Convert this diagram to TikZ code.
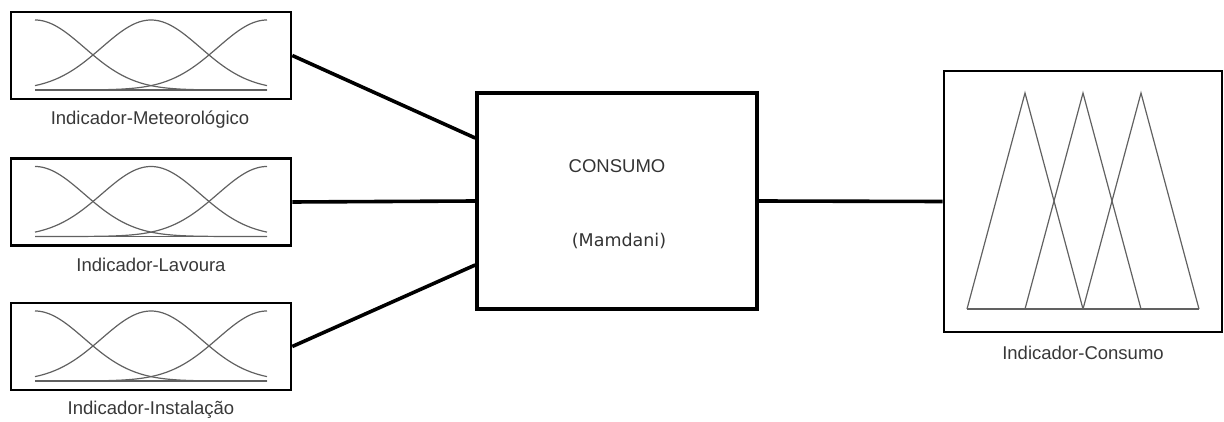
\documentclass[tikz,border=0pt]{standalone}
\usepackage{fontspec}
\setmainfont{Liberation Sans}
\newfontfamily\mamdanifont{DejaVu Sans}
\usetikzlibrary{calc}

% three Gaussian membership functions inside an input block
\newcommand\bellset[1]{%
  \begin{scope}[shift={(#1.center)}]
    \draw[mf] (-116,34.5) -- (116,34.5);
    \foreach \m in {-116,0,116}
      \draw[mf] plot[domain=-116:116, samples=90, smooth]
        ({\x}, {34.5 - 70*exp(-0.5*((\x-\m)/49.3)*((\x-\m)/49.3))});
  \end{scope}}

\begin{document}
\begin{tikzpicture}[x=1pt, y=-1pt,
  inbox/.style={draw=black, line width=2.6pt, minimum width=280pt, minimum height=87pt, inner sep=0pt},
  corebox/.style={draw=black, line width=3.6pt, minimum width=280pt, minimum height=216pt, inner sep=0pt},
  outbox/.style={draw=black, line width=2.6pt, minimum width=278pt, minimum height=261pt, inner sep=0pt},
  mf/.style={draw=black!62, line width=1.2pt},
  lbl/.style={text=black!78, font=\fontsize{18.5}{22}\selectfont, inner sep=0pt},
  wire/.style={draw=black, line width=3.6pt}
]
\useasboundingbox (0,0) rectangle (1224,422);

% input blocks
\node[inbox] (met) at (151,55.5) {};
\node[inbox] (lav) at (151,202) {};
\node[inbox] (ins) at (151,346.5) {};
\bellset{met}
\bellset{lav}
\bellset{ins}

\node[lbl] (lmet) at (150,120) {Indicador-Meteorológico};
\node[lbl] (llav) at (151,265) {Indicador-Lavoura};
\node[lbl] (lins) at (151,410) {Indicador-Instalação};

% inference block
\node[corebox] (core) at (617,201) {};
\node[text=black!80, font=\fontsize{18.5}{22}\selectfont, inner sep=0pt] (tcons) at (617,166) {CONSUMO};
\node[text=black!80, font=\mamdanifont\fontsize{17.5}{21}\selectfont, inner sep=0pt] (tmam) at (619,241) {(Mamdani)};

% output block with triangular membership functions
\node[outbox] (out) at (1083,201.5) {};
\begin{scope}[shift={(out.center)}]
  \draw[mf] (-116,107.5) -- (116,107.5);
  \foreach \m in {-58,0,58}
    \draw[mf, line join=miter] (\m-58,107.5) -- (\m,-108.5) -- (\m+58,107.5);
\end{scope}
\node[lbl] (lout) at (1083,353) {Indicador-Consumo};

% connectors
\coordinate (cin1) at ($(core.west)+(0,-63)$);
\coordinate (cin3) at ($(core.west)+(0,64)$);
\draw[wire] (met.east) -- (cin1);
\draw[wire] (lav.east) -- (core.west);
\draw[wire] (ins.east) -- (cin3);
\draw[wire] (core.east) -- (out.west);
\end{tikzpicture}
\end{document}
